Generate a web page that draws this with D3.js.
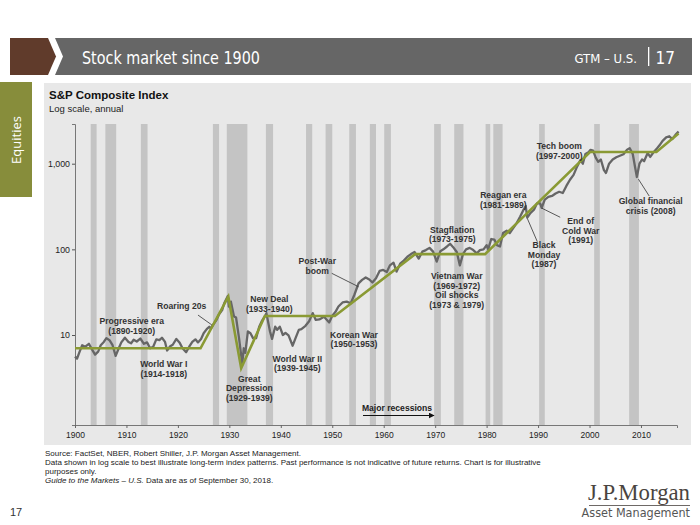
<!DOCTYPE html>
<html>
<head>
<meta charset="utf-8">
<script src="https://cdn.jsdelivr.net/npm/d3@7"></script>
<style>
html,body{margin:0;padding:0;background:#fff;}
svg{display:block;font-family:"Liberation Sans",Arial,sans-serif;}
</style>
</head>
<body>
<svg id="chart" width="700" height="525"></svg>
<script>
// ---------------- DATA ----------------
const xTickYears = [1900,1910,1920,1930,1940,1950,1960,1970,1980,1990,2000,2010];
const yTickValues = [10,100,1000];

// S&P Composite (log scale) – year, index level
const spYears = [1900.0,1900.4,1900.9,1901.4,1902.0,1902.7,1903.3,1903.9,1904.5,1905.0,1905.6,1906.1,1906.7,1907.3,1907.9,
 1908.5,1909.0,1909.7,1910.4,1910.9,1911.4,1912.0,1912.7,1913.4,1914.0,1914.6,1915.2,1915.8,1916.4,1916.9,1917.5,1917.9,
 1918.5,1919.0,1919.7,1920.3,1920.9,1921.6,1922.2,1922.8,1923.4,1923.9,1924.5,1925.0,1925.6,1926.1,1926.4,1926.9,1927.5,
 1928.0,1928.6,1929.0,1929.7,1929.9,1930.3,1930.9,1931.3,1931.9,1932.5,1932.8,1933.1,1933.6,1934.1,1934.6,1935.2,1935.8,
 1936.3,1936.9,1937.2,1937.9,1938.3,1938.9,1939.3,1939.8,1940.4,1940.9,1941.5,1942.3,1942.9,1943.5,1944.0,1944.8,1945.5,
 1946.2,1946.8,1947.5,1948.4,1949.4,1950.0,1950.6,1951.2,1952.0,1952.8,1953.6,1954.3,1955.1,1955.8,1956.5,1957.2,1957.8,
 1958.5,1959.2,1959.9,1960.6,1961.2,1961.9,1962.5,1963.2,1963.9,1964.6,1965.3,1966.0,1966.8,1967.5,1968.2,1968.9,1969.6,
 1970.3,1971.0,1971.6,1972.3,1972.9,1973.5,1974.2,1974.8,1975.4,1976.0,1976.7,1977.4,1978.1,1978.7,1979.4,1980.0,1980.3,
 1980.9,1981.5,1982.0,1982.6,1983.2,1983.9,1984.5,1985.2,1985.9,1986.5,1987.1,1987.6,1987.9,1988.5,1989.2,1989.8,1990.4,
 1990.7,1991.3,1992.0,1992.7,1993.4,1994.1,1994.8,1995.5,1996.2,1996.9,1997.6,1998.2,1998.7,1999.2,1999.8,2000.2,2000.7,
 2001.2,2001.7,2002.2,2002.8,2003.2,2003.8,2004.5,2005.2,2005.9,2006.6,2007.3,2007.8,2008.4,2008.9,2009.2,2009.7,2010.2,
 2010.6,2011.3,2011.8,2012.4,2013.0,2013.6,2014.2,2014.9,2015.5,2016.1,2016.7,2017.3];
const spValues = [5.6,5.3,6.4,7.6,7.3,7.9,6.8,5.9,6.4,7.6,8.3,9.2,8.7,7.6,5.7,
 7.0,8.2,9.3,8.3,8.0,8.8,8.4,9.1,7.9,8.2,7.0,7.3,8.9,8.7,9.3,8.3,6.6,
 7.4,7.7,9.0,8.2,7.0,6.3,7.3,8.3,8.9,8.2,9.0,10.5,11.7,12.5,11.9,13.3,15.0,
 17.5,19.5,23.5,28.5,21.5,24.5,16.5,16.0,9.0,4.6,7.0,6.2,11.0,10.5,9.2,9.2,12.5,
 14.5,16.5,18.0,11.0,9.0,12.5,11.5,12.5,10.0,10.6,9.9,7.5,9.3,11.5,11.7,12.8,14.5,
 18.0,15.0,15.2,16.3,14.0,16.8,18.5,21.5,24.0,24.5,23.5,29.5,40.0,44.0,47.0,44.5,41.0,
 46.0,56.0,57.5,54.5,65.0,70.0,55.0,68.0,74.0,82.0,88.0,93.0,78.0,94.0,98.0,104.0,94.0,
 72.0,95.0,100.0,108.0,116.0,106.0,93.0,65.0,88.0,100.0,104.0,98.0,90.0,98.0,100.0,112.0,100.0,
 132.0,130.0,112.0,108.0,155.0,165.0,155.0,178.0,205.0,240.0,285.0,320.0,235.0,265.0,290.0,345.0,345.0,
 305.0,380.0,410.0,420.0,448.0,470.0,455.0,550.0,650.0,740.0,930.0,1100.0,1000.0,1300.0,1360.0,1450.0,1420.0,
 1180.0,1050.0,1120.0,840.0,780.0,1000.0,1120.0,1190.0,1240.0,1290.0,1460.0,1520.0,1300.0,880.0,700.0,1000.0,1120.0,
 1070.0,1330.0,1200.0,1350.0,1480.0,1640.0,1850.0,2030.0,2090.0,1940.0,2170.0,2380.0];

// Stylised trend ("eras") line
const trendYears = [1900,1924.4,1929.8,1932.3,1936.9,1950.5,1966.1,1979.7,2000.1,2013.0,2017.3];
const trendValues = [7.0,7.0,28,4.1,16.7,16.7,88,88,1370,1370,2250];

// NBER major recessions (start, end)
const recStart = [1903.05,1905.9,1912.8,1926.8,1929.5,1937.1,1944.9,1948.7,1953.3,1957.3,1960.1,1969.8,1973.7,1979.8,1981.3,1990.2,2000.9,2007.7];
const recEnd   = [1904.2,1908.0,1914.1,1928.0,1933.5,1938.5,1946.1,1950.0,1954.6,1958.5,1961.4,1971.1,1975.5,1980.7,1983.1,1991.3,2002.0,2009.6];

// Annotation labels
const labelLines = [
  ["Progressive era","(1890-1920)"],
  ["World War I","(1914-1918)"],
  ["Roaring 20s"],
  ["New Deal","(1933-1940)"],
  ["Great","Depression","(1929-1939)"],
  ["World War II","(1939-1945)"],
  ["Post-War","boom"],
  ["Korean War","(1950-1953)"],
  ["Stagflation","(1973-1975)"],
  ["Vietnam War","(1969-1972)","Oil shocks","(1973 & 1979)"],
  ["Reagan era","(1981-1989)"],
  ["Black","Monday","(1987)"],
  ["End of","Cold War","(1991)"],
  ["Tech boom","(1997-2000)"],
  ["Global financial","crisis (2008)"]
];
// leader lines in data coordinates [year1, value1, year2, value2]
const leaders = [
  [1923.9,17.1,1926.6,13.1],
  [1949.9,52.5,1955.1,36.6],
  [1989.85,123,1987.9,230],
  [1994.3,237,1990.7,303],
  [2011.6,419,2009.5,660]
];

// ---------------- LAYOUT ----------------
const labelPos = [
  [131.7,321],[163.8,364],[181.7,306],[269.3,299],[249.3,378.5],[297.3,358.5],
  [317.3,261],[354,334.5],[452.3,229.5],[456.7,276],[503.3,195],[544,245],
  [580.7,221],[559.3,146],[650.7,201]
];

const svg = d3.select("#chart");

// header
svg.append("polygon").attr("points","10,38 48,38 56,56.5 48,75 10,75").attr("fill","#603b2b");
svg.append("polygon").attr("points","55,38 692,38 692,75 55,75 63,56.5").attr("fill","#666666");
svg.append("text").attr("x",82).attr("y",63.5).attr("fill","#fff")
  .attr("font-family","'Liberation Sans Narrow','DejaVu Sans Condensed','Open Sans',sans-serif")
  .attr("font-size",17).attr("textLength",178).attr("lengthAdjust","spacingAndGlyphs")
  .text("Stock market since 1900");
svg.append("text").attr("x",637).attr("y",63).attr("text-anchor","end").attr("fill","#fff")
  .attr("font-family","'Liberation Sans Narrow','DejaVu Sans Condensed',sans-serif")
  .attr("font-size",13).text("GTM – U.S.");
svg.append("rect").attr("x",648).attr("y",47).attr("width",1.3).attr("height",19).attr("fill","#fff");
svg.append("text").attr("x",675).attr("y",64).attr("text-anchor","end").attr("fill","#fff")
  .attr("font-family","'Liberation Sans Narrow','DejaVu Sans Condensed',sans-serif")
  .attr("font-size",17).text("17");

// side tab
svg.append("rect").attr("x",0).attr("y",82).attr("width",32).attr("height",115).attr("fill","#878d3b");
svg.append("text").attr("transform","translate(21,140) rotate(-90)").attr("text-anchor","middle")
  .attr("fill","#fff").attr("font-family","'Open Sans',sans-serif").attr("font-size",13).text("Equities");

// panel
svg.append("rect").attr("x",44).attr("y",83).attr("width",647).attr("height",362).attr("fill","#e8e8e8");

svg.append("text").attr("x",49).attr("y",98.5).attr("font-weight","bold").attr("font-size",11.5).attr("fill","#111")
  .text("S&P Composite Index");
svg.append("text").attr("x",49).attr("y",111.5).attr("font-size",9.5).attr("fill","#222").text("Log scale, annual");

// scales
const x = d3.scaleLinear().domain([1900,2017]).range([75,677]);
const y = d3.scaleLog().domain([0.89,2907]).range([425,124]);

// recession bands
svg.append("g").selectAll("rect").data(d3.range(recStart.length)).join("rect")
  .attr("x",i=>x(recStart[i])).attr("width",i=>x(recEnd[i])-x(recStart[i]))
  .attr("y",124).attr("height",425-124).attr("fill","#c4c4c4");

// axes
const yAxis = d3.axisLeft(y).tickValues(yTickValues).tickFormat(d3.format(",")).tickSize(3).tickPadding(2);
const gy = svg.append("g").attr("transform","translate(75,0)").call(yAxis);
gy.select(".domain").attr("stroke","#777");
gy.selectAll(".tick line").attr("stroke","#555");
gy.selectAll(".tick text").attr("font-size",8.8).attr("fill","#222").attr("font-family","'Liberation Sans',Arial,sans-serif");

const xAxis = d3.axisBottom(x).tickValues(xTickYears).tickFormat(d3.format("d")).tickSize(3).tickPadding(4);
const gx = svg.append("g").attr("transform","translate(0,425)").call(xAxis);
gx.select(".domain").attr("stroke","#777");
gx.selectAll(".tick line").attr("stroke","#666");
gx.selectAll(".tick text").attr("font-size",8.5).attr("fill","#222").attr("font-family","'Liberation Sans',Arial,sans-serif");

// S&P line
const spData = spYears.map((yr,i)=>[yr,spValues[i]]);
svg.append("path").datum(spData)
  .attr("d",d3.line().x(d=>x(d[0])).y(d=>y(d[1])))
  .attr("fill","none").attr("stroke","#666").attr("stroke-width",2.3).attr("stroke-linejoin","round");

// trend line
const trendData = trendYears.map((yr,i)=>[yr,trendValues[i]]);
svg.append("path").datum(trendData)
  .attr("d",d3.line().x(d=>x(d[0])).y(d=>y(d[1])))
  .attr("fill","none").attr("stroke","#8a9a34").attr("stroke-width",2.6).attr("stroke-linejoin","miter");

// leader lines
svg.append("g").selectAll("line").data(leaders).join("line")
  .attr("x1",d=>x(d[0])).attr("y1",d=>y(d[1])).attr("x2",d=>x(d[2])).attr("y2",d=>y(d[3]))
  .attr("stroke","#333").attr("stroke-width",0.8);

// labels
const lg = svg.append("g").attr("font-size",8.6).attr("font-weight","bold").attr("fill","#333").attr("text-anchor","middle");
labelLines.forEach((lines,i)=>{
  const t = lg.append("text").attr("x",labelPos[i][0]).attr("y",labelPos[i][1]+3);
  lines.forEach((s,j)=>t.append("tspan").attr("x",labelPos[i][0]).attr("dy",j===0?0:9.6).text(s));
});

// major recessions arrow
svg.append("defs").append("marker").attr("id","arr").attr("viewBox","0 0 10 10").attr("refX",9).attr("refY",5)
  .attr("markerWidth",6).attr("markerHeight",6).attr("orient","auto")
  .append("path").attr("d","M0,0 L10,5 L0,10 z").attr("fill","#111");
svg.append("line").attr("x1",363).attr("y1",415.5).attr("x2",434).attr("y2",415.5)
  .attr("stroke","#111").attr("stroke-width",1).attr("marker-end","url(#arr)");
svg.append("text").attr("x",397).attr("y",411).attr("text-anchor","middle").attr("font-size",8.6)
  .attr("font-weight","bold").attr("fill","#222").text("Major recessions");

// footer
const foot = svg.append("g").attr("font-size",8).attr("fill","#222");
foot.append("text").attr("x",45).attr("y",456).text("Source: FactSet, NBER, Robert Shiller, J.P. Morgan Asset Management.");
foot.append("text").attr("x",45).attr("y",465).text("Data shown in log scale to best illustrate long-term index patterns. Past performance is not indicative of future returns. Chart is for illustrative");
foot.append("text").attr("x",45).attr("y",474).text("purposes only.");
const f4 = foot.append("text").attr("x",45).attr("y",483);
f4.append("tspan").attr("font-style","italic").text("Guide to the Markets – U.S.");
f4.append("tspan").text(" Data are as of September 30, 2018.");

svg.append("text").attr("x",10).attr("y",516).attr("font-size",11).attr("fill","#333").text("17");

svg.append("text").attr("x",690).attr("y",500).attr("text-anchor","end")
  .attr("font-family","'Liberation Serif','DejaVu Serif',serif").attr("font-size",23).attr("fill","#4a4440")
  .attr("textLength",102).attr("lengthAdjust","spacingAndGlyphs").text("J.P.Morgan");
svg.append("rect").attr("x",589).attr("y",505).attr("width",101).attr("height",0.8).attr("fill","#4a4440");
svg.append("text").attr("x",690).attr("y",516.5).attr("text-anchor","end")
  .attr("font-family","'Liberation Sans Narrow','DejaVu Sans Condensed',sans-serif").attr("font-size",12.5).attr("fill","#555")
  .text("Asset Management");
</script>
</body>
</html>
